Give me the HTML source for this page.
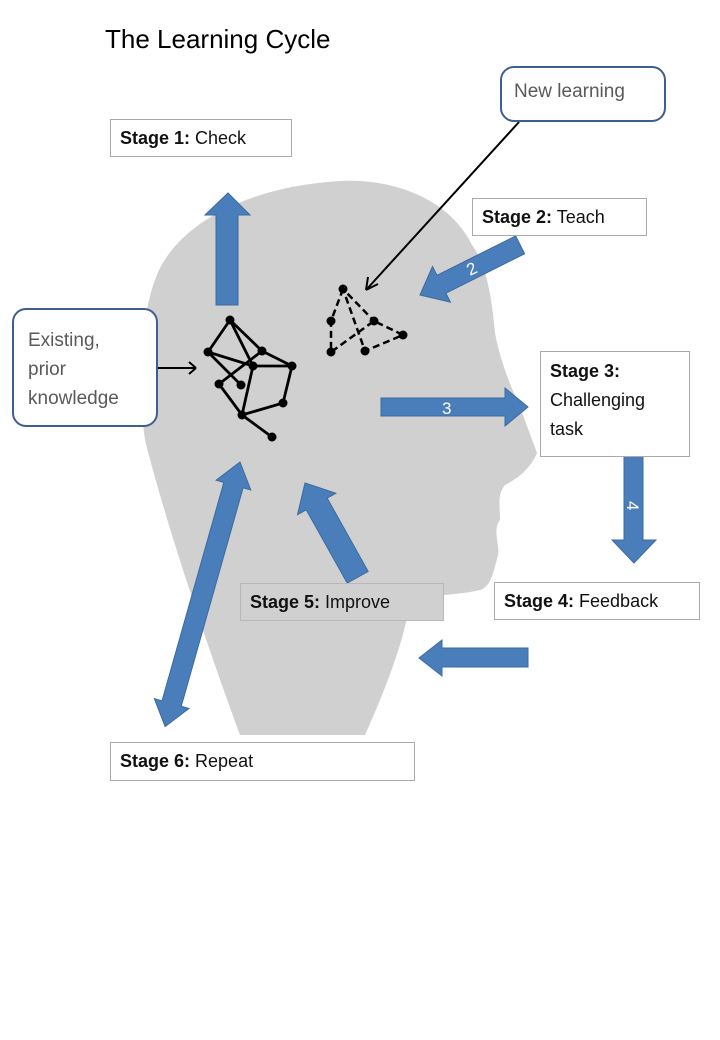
<!DOCTYPE html>
<html><head><meta charset="utf-8"><style>
body{margin:0;background:#fff;width:720px;height:1040px;overflow:hidden;position:relative;font-family:"Liberation Sans",sans-serif}
.b{position:absolute;background:#fff;border:1px solid #aaa;font-size:18px;color:#111;box-sizing:border-box;padding-left:9px;line-height:36px}
.r{position:absolute;background:#fff;border:2px solid #3f5f8f;border-radius:14px;box-sizing:border-box;color:#595959;font-size:19px}
</style></head><body>
<svg width="720" height="1040" style="position:absolute;left:0;top:0">
<path d="M340,181 C400,178 452,203 472,245 C487,265 492,300 495,333 C500,360 510,385 520,407 L537,453 C530,470 515,480 505,485 C497,495 500,505 500,520 C492,530 500,545 498,555 C493,575 490,587 480,590 C460,595 430,595 410,600 C405,640 385,690 365,735 L240,735 C205,640 165,520 145,440 C138,390 140,320 155,280 C170,235 230,188 340,181 Z" fill="#d0d0d0"/>
<g fill="#4a7ebb" stroke="#3a6aa0" stroke-width="1">
<polygon points="216,305 216,215 205,215 228,193 250,215 238,215 238,305"/>
<polygon points="381,398 505,398 505,388 528,407 505,426 505,416 381,416"/>
<polygon points="624,456 643,456 643,540 656,540 634,563 612,540 624,540"/>
<polygon points="528,648 442,648 442,640 419,658 442,676 442,667 528,667"/>
<g transform="translate(420,295) rotate(-26.6)"><polygon points="0,0 24,-20 24,-10 112,-10 112,10 24,10 24,20"/></g>
<g transform="translate(305,483) rotate(60.8)"><polygon points="0,0 24,-22 24,-12 108,-12 108,12 24,12 24,22"/></g>
<g transform="translate(240,462) rotate(105.8)"><polygon points="0,0 24,-18 24,-10 251,-10 251,-18 275,0 251,18 251,10 24,10 24,18"/></g>
</g>
<text x="470" y="276" fill="#fff" font-size="17" transform="rotate(-26 470 276)">2</text>
<text x="442" y="414" fill="#fff" font-size="17">3</text>
<text x="627" y="501" fill="#fff" font-size="17" transform="rotate(90 627 501)">4</text>
<g stroke="#000" stroke-width="2.8" fill="none">
<path d="M230,320 L208,352 M230,320 L253,366 M230,320 L262,351 L292,366 M208,352 L253,366 L292,366 M208,352 L241,385 M219,384 L262,351 M219,384 L242,415 M253,366 L242,415 L283,403 L292,366 M242,415 L272,437"/>
</g>
<g fill="#000">
<circle cx="230" cy="320" r="4.5"/><circle cx="208" cy="352" r="4.5"/><circle cx="262" cy="351" r="4.5"/><circle cx="253" cy="366" r="4.5"/><circle cx="292" cy="366" r="4.5"/><circle cx="219" cy="384" r="4.5"/><circle cx="241" cy="385" r="4.5"/><circle cx="283" cy="403" r="4.5"/><circle cx="242" cy="415" r="4.5"/><circle cx="272" cy="437" r="4.5"/>
<circle cx="343" cy="289" r="4.5"/><circle cx="331" cy="321" r="4.5"/><circle cx="331" cy="352" r="4.5"/><circle cx="374" cy="321" r="4.5"/><circle cx="403" cy="335" r="4.5"/><circle cx="365" cy="351" r="4.5"/>
</g>
<g stroke="#000" stroke-width="2.5" stroke-dasharray="7,4" fill="none">
<path d="M343,289 L331,321 L331,352 L374,321 L403,335 L365,351 L343,289 L374,321"/>
</g>
<g stroke="#000" stroke-width="2" fill="none">
<path d="M519,122 L366,290 M366,290 L368,277 M366,290 L378,284"/>
<path d="M158,368 L196,368 M196,368 L189,362 M196,368 L189,374"/>
</g>
</svg>
<div style="position:absolute;left:105px;top:24px;font-size:26px;color:#000">The Learning Cycle</div>
<div class="b" style="left:110px;top:119px;width:182px;height:38px"><b>Stage 1:</b> Check</div>
<div class="r" style="left:500px;top:66px;width:166px;height:56px;padding:13px 0 0 12px">New learning</div>
<div class="b" style="left:472px;top:198px;width:175px;height:38px"><b>Stage 2:</b> Teach</div>
<div class="r" style="left:12px;top:308px;width:146px;height:119px;padding:16px 0 0 14px;line-height:29px">Existing,<br>prior<br>knowledge</div>
<div class="b" style="left:540px;top:351px;width:150px;height:106px;line-height:29px;padding-top:5px"><b>Stage 3:</b><br>Challenging<br>task</div>
<div class="b" style="left:494px;top:582px;width:206px;height:38px"><b>Stage 4:</b> Feedback</div>
<div class="b" style="left:240px;top:583px;width:204px;height:38px;background:#d0d0d0;border-color:#b8b8b8"><b>Stage 5:</b> Improve</div>
<div class="b" style="left:110px;top:742px;width:305px;height:39px"><b>Stage 6:</b> Repeat</div>
</body></html>
